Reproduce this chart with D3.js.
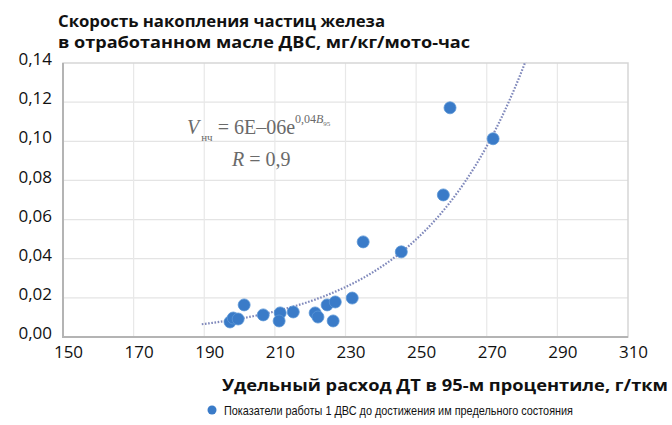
<!DOCTYPE html>
<html>
<head>
<meta charset="utf-8">
<script src="https://cdn.jsdelivr.net/npm/d3@7"></script>
<style>
  body { margin: 0; background: #fff; }
  svg { display: block; }
</style>
</head>
<body>
<div id="chart"></div>
<script>
// data
const fuelRate = [197.3, 198.2, 199.6, 201.3, 206.7, 211.5, 211.2, 215.2, 221.4, 222.2,
                  224.8, 227.1, 226.5, 231.9, 235.0, 245.8, 257.7, 259.6, 271.8];
const ironRate = [0.0077, 0.0097, 0.0092, 0.0164, 0.0113, 0.0123, 0.0082, 0.0128, 0.0123, 0.0102,
                  0.0164, 0.0179, 0.0082, 0.0199, 0.0486, 0.0435, 0.0726, 0.1171, 0.1013];
const xTicks = [150, 170, 190, 210, 230, 250, 270, 290, 310];
const yTicks = [0, 0.02, 0.04, 0.06, 0.08, 0.10, 0.12, 0.14];
const trendCoef = [1.15e-5, 0.0335];   // a, k of a*exp(k*x)
const trendFrom = [189.3, 285];

const titleLines = ["Скорость накопления частиц железа", "в отработанном масле ДВС, мг/кг/мото-час"];
const xTitle = "Удельный расход ДТ в 95-м процентиле, г/ткм";
const legendLabel = "Показатели работы 1 ДВС до достижения им предельного состояния";

const W = 672, H = 425;
const plot = {left: 63, right: 628, top: 63, bottom: 337};

const svg = d3.select("#chart").append("svg")
    .attr("width", W)
    .attr("height", H)
    .attr("viewBox", `0 0 ${W} ${H}`);

const x = d3.scaleLinear().domain([150, 310]).range([plot.left, plot.right]);
const y = d3.scaleLinear().domain([0, 0.14]).range([plot.bottom, plot.top]);
const fmt = d => d3.format(".2f")(d).replace(".", ",");

// gridlines
svg.append("g")
    .selectAll("line")
    .data(yTicks.slice(1, -1))
    .enter().append("line")
    .attr("x1", plot.left).attr("x2", plot.right)
    .attr("y1", d => y(d)).attr("y2", d => y(d))
    .attr("stroke", "#e4e4e4").attr("stroke-width", 1.2);

svg.append("g")
    .selectAll("line")
    .data(xTicks.slice(1, -1))
    .enter().append("line")
    .attr("y1", plot.top).attr("y2", plot.bottom)
    .attr("x1", d => x(d)).attr("x2", d => x(d))
    .attr("stroke", "#e8e8e8").attr("stroke-width", 1.2);

// frame
svg.append("rect")
    .attr("x", plot.left).attr("y", plot.top)
    .attr("width", plot.right - plot.left).attr("height", plot.bottom - plot.top)
    .attr("fill", "none").attr("stroke", "#d6d6d6").attr("stroke-width", 1.5);
svg.append("path")
    .attr("d", `M${plot.left},${plot.top}V${plot.bottom}H${plot.right}`)
    .attr("fill", "none").attr("stroke", "#b4b4b4").attr("stroke-width", 2);

// axes (labels only)
const yAxis = svg.append("g")
    .attr("transform", `translate(${plot.left - 8},0)`)
    .call(d3.axisLeft(y).tickValues(yTicks).tickFormat(fmt).tickSize(0));
yAxis.select(".domain").remove();
yAxis.selectAll("text")
    .attr("font-family", "'Open Sans', sans-serif")
    .attr("font-size", 17).attr("fill", "#111").attr("dy", "0.1em");

const xAxis = svg.append("g")
    .attr("transform", `translate(5,${plot.bottom + 6})`)
    .call(d3.axisBottom(x).tickValues(xTicks).tickFormat(d3.format("d")).tickSize(0));
xAxis.select(".domain").remove();
xAxis.selectAll("text")
    .attr("font-family", "'Open Sans', sans-serif")
    .attr("font-size", 17).attr("fill", "#111");

// trend line
svg.append("clipPath").attr("id", "clip")
    .append("rect")
    .attr("x", plot.left).attr("y", plot.top - 1)
    .attr("width", plot.right - plot.left).attr("height", plot.bottom - plot.top);

const trendX = d3.range(trendFrom[0], trendFrom[1], 0.5);
const line = d3.line()
    .x(d => x(d))
    .y(d => y(trendCoef[0] * Math.exp(trendCoef[1] * d)));
svg.append("path")
    .datum(trendX)
    .attr("clip-path", "url(#clip)")
    .attr("d", line)
    .attr("fill", "none")
    .attr("stroke", "#7f88bb")
    .attr("stroke-width", 2.2)
    .attr("stroke-dasharray", "1.6,1.6");

// points
svg.append("g")
    .selectAll("circle")
    .data(fuelRate.map((d, i) => [d, ironRate[i]]))
    .enter().append("circle")
    .attr("cx", d => x(d[0]))
    .attr("cy", d => y(d[1]))
    .attr("r", 6)
    .attr("fill", "#3a7bc8")
    .attr("stroke", "#5b95d6")
    .attr("stroke-width", 0.8);

// equation
const serif = "'Liberation Serif', 'DejaVu Serif', serif";
const eq = svg.append("text")
    .attr("x", 187).attr("y", 134)
    .attr("font-family", serif).attr("font-size", 20).attr("fill", "#6a6a6a");
eq.append("tspan").attr("font-style", "italic").text("V");
eq.append("tspan").attr("font-size", 11).attr("dx", 2).attr("dy", 7).text("нч");
eq.append("tspan").attr("dy", -7).attr("dx", 5).text("= 6E–06e");
eq.append("tspan").attr("font-size", 12).attr("dy", -11).text("0,04");
eq.append("tspan").attr("font-size", 12).attr("font-style", "italic").text("B");
eq.append("tspan").attr("font-size", 7).attr("dy", 3).text("95");

const r = svg.append("text")
    .attr("x", 232).attr("y", 166)
    .attr("font-family", serif).attr("font-size", 20).attr("fill", "#6a6a6a");
r.append("tspan").attr("font-style", "italic").text("R");
r.append("tspan").text(" = 0,9");

// titles
svg.append("g")
    .selectAll("text")
    .data(titleLines)
    .enter().append("text")
    .attr("x", 58)
    .attr("y", (d, i) => 27 + i * 21)
    .attr("font-family", "'Open Sans', sans-serif")
    .attr("font-weight", "bold")
    .attr("font-size", 16)
    .attr("fill", "#111")
    .attr("textLength", (d, i) => i === 0 ? 327 : 412)
    .attr("lengthAdjust", "spacingAndGlyphs")
    .text(d => d);

svg.append("text")
    .attr("x", 668).attr("y", 391)
    .attr("text-anchor", "end")
    .attr("font-family", "'Open Sans', sans-serif")
    .attr("font-weight", "bold")
    .attr("font-size", 16)
    .attr("fill", "#111")
    .attr("textLength", 446)
    .attr("lengthAdjust", "spacingAndGlyphs")
    .text(xTitle);

// legend
svg.append("circle")
    .attr("cx", 212).attr("cy", 410).attr("r", 4.5)
    .attr("fill", "#3a7bc8");
svg.append("text")
    .attr("x", 224).attr("y", 415)
    .attr("font-family", "'Liberation Sans', sans-serif")
    .attr("font-size", 13)
    .attr("fill", "#111")
    .attr("textLength", 349)
    .attr("lengthAdjust", "spacingAndGlyphs")
    .text(legendLabel);
</script>
</body>
</html>
